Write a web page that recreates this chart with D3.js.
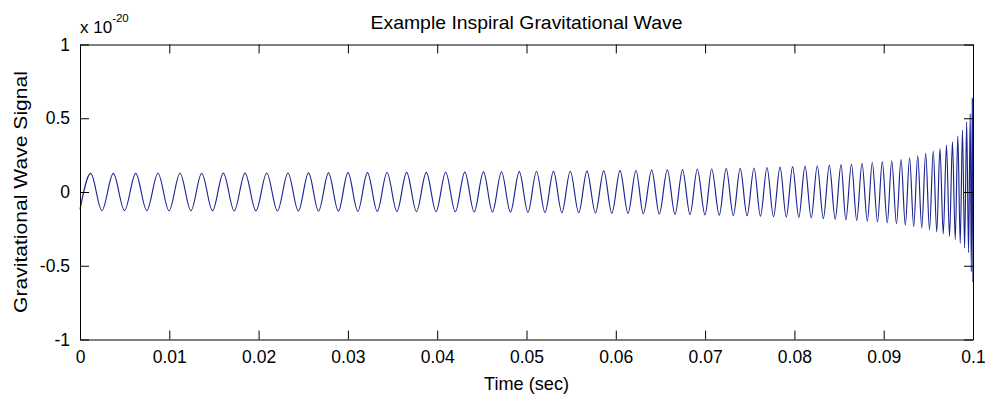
<!DOCTYPE html>
<html>
<head>
<meta charset="utf-8">
<script src="https://cdn.jsdelivr.net/npm/d3@7"></script>
<style>
  html, body { margin: 0; padding: 0; background: #fff; }
  svg { display: block; }
  text { font-family: "Liberation Sans", Arial, Helvetica, sans-serif; fill: #000; }
</style>
</head>
<body>
<script>
// tick values / labels
const xTicks = [0, 0.01, 0.02, 0.03, 0.04, 0.05, 0.06, 0.07, 0.08, 0.09, 0.1];
const xTickLabels = ['0', '0.01', '0.02', '0.03', '0.04', '0.05', '0.06', '0.07', '0.08', '0.09', '0.1'];
const yTicks = [-1, -0.5, 0, 0.5, 1];
const yTickLabels = ['-1', '-0.5', '0', '0.5', '1'];

// signal start (t = 0), in units of 1e-20
const startTime = 0;
const startValue = -0.118;

// times (sec) of the wave crests
const peakTimes = [
  0.00120, 0.00373, 0.00624, 0.00873, 0.01120, 0.01363, 0.01605, 0.01848, 0.02091, 0.02329,
  0.02559, 0.02783, 0.03001, 0.03219, 0.03438, 0.03658, 0.03878, 0.04095, 0.04309, 0.04518,
  0.04720, 0.04919, 0.05112, 0.05302, 0.05490, 0.05677, 0.05865, 0.06047, 0.06226, 0.06402,
  0.06577, 0.06747, 0.06913, 0.07074, 0.07236, 0.07393, 0.07548, 0.07693, 0.07839, 0.07980,
  0.08119, 0.08256, 0.08391, 0.08522, 0.08639, 0.08757, 0.08872, 0.08984, 0.09090, 0.09194,
  0.09290, 0.09381, 0.09470, 0.09555, 0.09630, 0.09703, 0.09770, 0.09830, 0.09882, 0.09929,
  0.09969, 0.09992
];
const peakValues = [
  0.126, 0.126, 0.126, 0.127, 0.127, 0.127, 0.128, 0.128, 0.129, 0.129,
  0.130, 0.130, 0.131, 0.131, 0.132, 0.133, 0.133, 0.134, 0.135, 0.136,
  0.137, 0.138, 0.139, 0.140, 0.141, 0.142, 0.143, 0.145, 0.146, 0.148,
  0.150, 0.152, 0.154, 0.156, 0.158, 0.160, 0.163, 0.166, 0.169, 0.172,
  0.175, 0.178, 0.182, 0.186, 0.190, 0.195, 0.200, 0.206, 0.212, 0.219,
  0.232, 0.245, 0.262, 0.278, 0.295, 0.318, 0.340, 0.380, 0.420, 0.475,
  0.530, 0.635
];

// times (sec) of the wave troughs
const troughTimes = [
  0.00245, 0.00498, 0.00748, 0.00997, 0.01242, 0.01484, 0.01727, 0.01970, 0.02211, 0.02445,
  0.02671, 0.02893, 0.03111, 0.03329, 0.03549, 0.03768, 0.03987, 0.04203, 0.04414, 0.04619,
  0.04820, 0.05016, 0.05207, 0.05396, 0.05585, 0.05772, 0.05956, 0.06137, 0.06308, 0.06487,
  0.06663, 0.06831, 0.06999, 0.07159, 0.07316, 0.07470, 0.07620, 0.07766, 0.07909, 0.08049,
  0.08188, 0.08324, 0.08457, 0.08576, 0.08698, 0.08817, 0.08931, 0.09040, 0.09143, 0.09242,
  0.09336, 0.09426, 0.09513, 0.09594, 0.09667, 0.09737, 0.09801, 0.09857, 0.09906, 0.09950,
  0.09981, 0.10000
];
const troughValues = [
  -0.126, -0.126, -0.126, -0.127, -0.127, -0.127, -0.128, -0.128, -0.129, -0.129,
  -0.130, -0.130, -0.131, -0.131, -0.132, -0.133, -0.133, -0.134, -0.135, -0.136,
  -0.137, -0.138, -0.139, -0.140, -0.141, -0.142, -0.144, -0.145, -0.147, -0.149,
  -0.151, -0.153, -0.155, -0.157, -0.159, -0.161, -0.164, -0.167, -0.170, -0.173,
  -0.176, -0.180, -0.184, -0.188, -0.192, -0.197, -0.203, -0.209, -0.216, -0.224,
  -0.234, -0.245, -0.257, -0.270, -0.285, -0.302, -0.324, -0.348, -0.380, -0.410,
  -0.540, -0.610
];

const width = 985, height = 396;
const margin = { top: 44.5, right: 12, bottom: 56.5, left: 80 };

const svg = d3.select('body').append('svg')
  .attr('width', width)
  .attr('height', height);

const x = d3.scaleLinear().domain([0, 0.1]).range([margin.left, width - margin.right]);
const y = d3.scaleLinear().domain([-1, 1]).range([height - margin.bottom, margin.top]);

// crest, trough, crest, trough ...
const signal = [{ t: startTime, v: startValue }];
peakTimes.forEach((t, i) => {
  signal.push({ t: t, v: peakValues[i] });
  signal.push({ t: troughTimes[i], v: troughValues[i] });
});

const line = d3.line()
  .x(d => x(d.t))
  .y(d => y(d.v))
  .curve(d3.curveMonotoneX);

svg.append('path')
  .datum(signal)
  .attr('fill', 'none')
  .attr('stroke', '#1a2590')
  .attr('stroke-width', 1.15)
  .attr('d', line);

// axes, MATLAB-style box with inward ticks
const tickLen = 9;
function styleAxis(g) {
  g.selectAll('.domain').attr('stroke', '#000');
  g.selectAll('.tick line').attr('stroke', '#000');
  g.selectAll('text').attr('font-size', 17.5).attr('fill', '#000')
    .style('font-family', '"Liberation Sans", Arial, sans-serif');
}

svg.append('g')
  .attr('transform', `translate(0,${y(-1)})`)
  .call(d3.axisBottom(x).tickValues(xTicks).tickSizeInner(-tickLen).tickSizeOuter(0).tickPadding(11)
    .tickFormat((d, i) => xTickLabels[i]))
  .call(styleAxis);

svg.append('g')
  .attr('transform', `translate(0,${y(1)})`)
  .call(d3.axisTop(x).tickValues(xTicks).tickSizeInner(-tickLen).tickSizeOuter(0).tickFormat(''))
  .call(styleAxis);

svg.append('g')
  .attr('transform', `translate(${x(0)},0)`)
  .call(d3.axisLeft(y).tickValues(yTicks).tickSizeInner(-tickLen).tickSizeOuter(0).tickPadding(10)
    .tickFormat((d, i) => yTickLabels[i]))
  .call(styleAxis);

svg.append('g')
  .attr('transform', `translate(${x(0.1)},0)`)
  .call(d3.axisRight(y).tickValues(yTicks).tickSizeInner(-tickLen).tickSizeOuter(0).tickFormat(''))
  .call(styleAxis);

// title and labels
svg.append('text')
  .attr('x', (x(0) + x(0.1)) / 2)
  .attr('y', 29)
  .attr('text-anchor', 'middle')
  .attr('font-size', 18.5)
  .attr('textLength', 312)
  .attr('lengthAdjust', 'spacingAndGlyphs')
  .text('Example Inspiral Gravitational Wave');

svg.append('text')
  .attr('x', (x(0) + x(0.1)) / 2)
  .attr('y', 390)
  .attr('text-anchor', 'middle')
  .attr('font-size', 18.5)
  .attr('textLength', 85)
  .attr('lengthAdjust', 'spacingAndGlyphs')
  .text('Time (sec)');

svg.append('text')
  .attr('transform', `translate(27,${(y(1) + y(-1)) / 2}) rotate(-90)`)
  .attr('text-anchor', 'middle')
  .attr('font-size', 19)
  .attr('textLength', 242)
  .attr('lengthAdjust', 'spacingAndGlyphs')
  .text('Gravitational Wave Signal');

// exponent
const expo = svg.append('text')
  .attr('x', 80)
  .attr('y', 33)
  .attr('font-size', 17);
expo.append('tspan').text('x 10');
expo.append('tspan').attr('dy', -11).attr('font-size', 11.5).text('-20');
</script>
</body>
</html>
